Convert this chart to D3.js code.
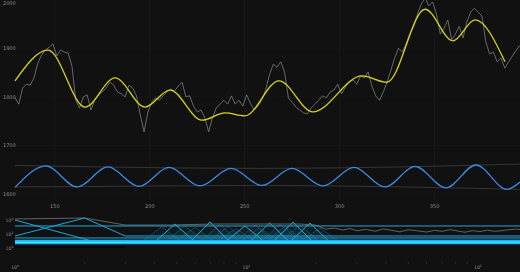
<!DOCTYPE html>
<html><head><meta charset="utf-8">
<script src="https://cdn.jsdelivr.net/npm/d3@7"></script>
<style>html,body{margin:0;padding:0;background:#111;overflow:hidden}</style>
</head><body><svg id="c" width="520" height="272"></svg>
<script>
// ---------- top panel data ----------
const topXTicks = [150, 200, 250, 300, 350];
const topYTicks = [1600, 1700, 1800, 1900, 2000];
const rawX = d3.range(129, 396, 2);
const rawY = [1798,1785,1818,1826,1824,1839,1869,1886,1896,1902,
  1909,1884,1896,1892,1890,1863,1793,1777,1800,1804,
  1773,1793,1804,1810,1818,1830,1824,1810,1806,1800,
  1824,1818,1802,1763,1728,1769,1789,1798,1793,1802,
  1810,1816,1812,1822,1830,1800,1802,1781,1769,1773,
  1757,1728,1757,1777,1785,1793,1785,1802,1785,1793,
  1781,1804,1787,1773,1781,1793,1814,1845,1867,1861,
  1872,1851,1798,1789,1779,1773,1767,1765,1777,1785,
  1793,1802,1798,1810,1814,1826,1806,1820,1830,1835,
  1826,1843,1839,1851,1822,1802,1793,1810,1830,1855,
  1880,1900,1892,1909,1929,1945,1970,1991,2003,1987,
  1995,1970,1929,1941,1958,1917,1929,1945,1921,1954,
  1974,1982,1974,1966,1913,1888,1892,1872,1880,1859,
  1872,1884,1896,1906];
const smoothX = [129,146.4,165.9,181.7,197.5,210.6,227.5,239.6,250.1,268.0,285.9,311.8,324.9,345.0,359.7,371.3,387.1];
const smoothY = [1833,1896,1779,1839,1779,1814,1752,1767,1761,1833,1769,1843,1830,1980,1915,1958,1872];
const sineX = [129.0,145.3,161.7,178.0,194.3,210.1,226.4,242.8,259.1,274.9,291.2,307.6,323.9,339.7,356.0,371.8,388.1,395.0];
const sineY = [1614,1658,1615,1656,1616,1655,1617,1653,1618,1653,1617,1655,1615,1657,1613,1660,1610,1625];
const envX = [129, 173.8, 258, 331.8, 395];
const envUpper = [1659, 1656, 1653, 1656, 1662];
const envLower = [1615, 1616, 1618, 1615, 1610];

// ---------- bottom panel data ----------
const botXTicks = [1, 10, 100];
const botYTicks = [1, 100, 10000];
const grayBX = [1,2.0,2.99,4.67,7.3,10.4,17.0,19.8,22,24,26,28,30,33,36,39,42,46,50,55,60,65,70,76,82,88,95,102,110,118,127,136,146,152];
const grayBY = [13900,19300,1930,1930,2680,2680,2680,1930,500,700,380,600,300,450,250,520,350,200,400,280,190,330,240,420,260,180,300,220,350,240,300,400,500,450];
const levelCyan = [1400, 27];
const bandLevels = [11.8, 8.5, 6.1, 4.4];
const darkLevelX = [1, 2.99];
const darkLevelY = [1.39, 1.39];
const descX = [1, 2.22, 152];
const descY = [10000, 7.2, 7.2];
const riseX = [1, 2.0, 2.99, 152];
const riseY = [52, 19300, 52, 52];
const peakBase = 7.2;
const peakL = [4.02,5.70,8.08,10.3,13.0,15.4];
const peakC = [4.91,6.96,9.86,12.6,15.9,18.8];
const peakR = [5.99,8.49,12.0,15.4,19.4,22.9];
const peakH = [2680,5180,1390,3730,5180,3730];
const fadeL = [4.44,4.91,6.30,6.82,8.93,9.34,11.5,12.0,13.9,17.0,3.52,7.38];
const fadeC = [5.42,5.99,7.68,8.32,10.9,11.4,14.0,14.7,17.0,20.8,4.3,9.0];
const fadeR = [6.61,7.31,9.37,10.2,13.3,13.9,17.1,17.9,20.7,25.4,5.25,11.0];
const fadeH = [1500,900,2200,1200,1800,800,2500,1300,1900,700,1100,600];
const minorTicks = [2,3,4,5,6,7,8,9,20,30,40,50,60,70,80,90];

// ---------- drawing ----------
const svg = d3.select('#c');
svg.append('rect').attr('width',520).attr('height',272).attr('fill','#111');
const FONT = 'DejaVu Sans';
const lblColor = '#8c8c8c';

const x = d3.scaleLinear().domain([129,395]).range([15,520]);
const y = d3.scaleLinear().domain([1600,2000]).range([194.2,-0.5]);

const gTop = svg.append('g');
gTop.selectAll('.vg').data(topXTicks).join('line')
  .attr('x1',d=>x(d)).attr('x2',d=>x(d)).attr('y1',0).attr('y2',200)
  .attr('stroke','#1c1c1c').attr('stroke-width',0.8);
gTop.selectAll('.hg').data(topYTicks).join('line')
  .attr('x1',15).attr('x2',520).attr('y1',d=>y(d)).attr('y2',d=>y(d))
  .attr('stroke','#181818').attr('stroke-width',0.8);
gTop.selectAll('.yl').data(topYTicks).join('text')
  .attr('x',3).attr('y',d=>Math.max(y(d),2.8)).attr('dy','0.35em')
  .attr('font-family',FONT).attr('font-size',5).attr('fill',lblColor)
  .text(d=>d);
gTop.selectAll('.xl').data(topXTicks).join('text')
  .attr('x',d=>x(d)).attr('y',207.5).attr('text-anchor','middle')
  .attr('font-family',FONT).attr('font-size',5).attr('fill',lblColor)
  .text(d=>d);

const lineXY = (sx, sy, curve) => d3.line().x(d=>sx(d[0])).y(d=>sy(d[1])).curve(curve||d3.curveLinear);
gTop.append('path').datum(d3.zip(envX, envUpper))
  .attr('d', lineXY(x,y,d3.curveMonotoneX)).attr('fill','none').attr('stroke','#3a3a3a').attr('stroke-width',0.9);
gTop.append('path').datum(d3.zip(envX, envLower))
  .attr('d', lineXY(x,y,d3.curveMonotoneX)).attr('fill','none').attr('stroke','#3a3a3a').attr('stroke-width',0.9);
gTop.append('path').datum(d3.zip(sineX, sineY))
  .attr('d', lineXY(x,y,d3.curveMonotoneX)).attr('fill','none').attr('stroke','#3b8ae0').attr('stroke-width',1.3);
gTop.append('path').datum(d3.zip(rawX, rawY))
  .attr('d', lineXY(x,y)).attr('fill','none').attr('stroke','#7a7d82').attr('stroke-width',0.8);
gTop.append('path').datum(d3.zip(smoothX, smoothY))
  .attr('d', lineXY(x,y,d3.curveMonotoneX)).attr('fill','none').attr('stroke','#d8d41a').attr('stroke-width',1.3);

// ---------- bottom panel ----------
const bx = d3.scaleLog().domain([1,152]).range([15,520]);
const by = d3.scaleLog().domain([1,10000]).range([248,220]);
const gB = svg.append('g');

gB.selectAll('.mt').data(minorTicks).join('line')
  .attr('x1',d=>bx(d)).attr('x2',d=>bx(d)).attr('y1',262).attr('y2',264)
  .attr('stroke','#2c2c2c').attr('stroke-width',1);

function supLabel(sel, ax, ay, exp, anchor){
  const t = sel.append('text').attr('x',ax).attr('y',ay)
    .attr('font-family',FONT).attr('font-size',4.6).attr('fill',lblColor)
    .attr('text-anchor',anchor);
  t.append('tspan').text('10');
  t.append('tspan').attr('dy',-1.8).attr('font-size',3.2).text(exp);
}
botXTicks.forEach(v=>supLabel(gB, bx(v), 268.5, Math.round(Math.log10(v)), 'middle'));
botYTicks.forEach(v=>supLabel(gB, 13.5, by(v)+1.6, Math.round(Math.log10(v)), 'end'));

const bl = d3.line().x(d=>bx(d[0])).y(d=>by(d[1]));
gB.append('path').datum(d3.zip(darkLevelX, darkLevelY)).attr('d',bl)
  .attr('fill','none').attr('stroke','#000').attr('stroke-width',1);
gB.selectAll('.fp').data(d3.range(fadeC.length)).join('path')
  .attr('d', i => bl([[fadeL[i],peakBase],[fadeC[i],fadeH[i]],[fadeR[i],peakBase]]))
  .attr('fill','#1aa8dc').attr('fill-opacity',0.07)
  .attr('stroke','#1aa8dc').attr('stroke-opacity',0.4).attr('stroke-width',0.8);
gB.selectAll('.mp').data(d3.range(peakC.length)).join('path')
  .attr('d', i => bl([[peakL[i],peakBase],[peakC[i],peakH[i]],[peakR[i],peakBase]]))
  .attr('fill','#1aa8dc').attr('fill-opacity',0.08)
  .attr('stroke','#1ab0e6').attr('stroke-width',1);
gB.append('path').datum(d3.zip(grayBX, grayBY)).attr('d',bl)
  .attr('fill','none').attr('stroke','#777').attr('stroke-width',0.8);
gB.selectAll('.lv').data(levelCyan).join('line')
  .attr('x1',bx(1)).attr('x2',bx(152)).attr('y1',d=>by(d)).attr('y2',d=>by(d))
  .attr('stroke','#1aa8dc').attr('stroke-width',1);
gB.append('path').datum(d3.zip(descX, descY)).attr('d',bl)
  .attr('fill','none').attr('stroke','#1aa8dc').attr('stroke-width',1);
gB.append('path').datum(d3.zip(riseX, riseY)).attr('d',bl)
  .attr('fill','none').attr('stroke','#1aa8dc').attr('stroke-width',1);
gB.selectAll('.bd').data(bandLevels).join('line')
  .attr('x1',bx(1)).attr('x2',bx(152)).attr('y1',d=>by(d)).attr('y2',d=>by(d))
  .attr('stroke',(d,i)=> i===2 ? '#6fdcff' : '#10bdf5').attr('stroke-width',1.5);
</script></body></html>
